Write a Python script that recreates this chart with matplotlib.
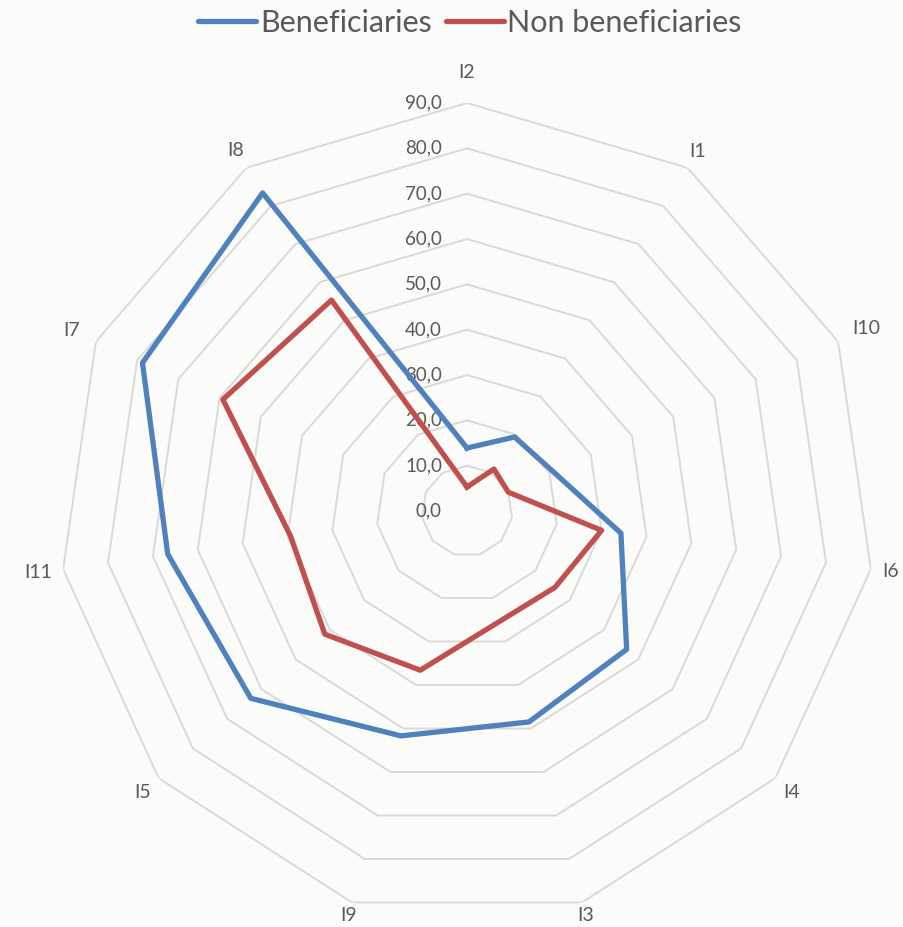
import matplotlib
matplotlib.use('Agg')
import matplotlib.pyplot as plt
import matplotlib.transforms as mtransforms
import numpy as np

plt.rcParams['font.family'] = ['Lato', 'DejaVu Sans']

# categories clockwise from the top
categories = ['I2', 'I1', 'I10', 'I6', 'I4', 'I3', 'I9', 'I5', 'I11', 'I7', 'I8']
beneficiaries = [13.9, 19.4, 20.9, 34.3, 46.6, 48.5, 51.7, 63.1, 66.7, 78.7, 83.4]
non_beneficiaries = [5.3, 11.0, 10.0, 30.0, 25.7, 25.4, 36.6, 41.5, 39.3, 59.2, 55.3]
rings = [10, 20, 30, 40, 50, 60, 70, 80, 90]
ring_labels = ['0,0', '10,0', '20,0', '30,0', '40,0', '50,0', '60,0', '70,0', '80,0', '90,0']

# where each category label sits (in axis units, outside the 90 ring)
label_r = [96.8, 94.2, 96.8, 94.4, 94.7, 92.9, 92.9, 94.7, 95.6, 96.0, 94.6]

grid_col = '#D9D9D9'
txt_col = '#595959'
blue = '#4F81BD'
red = '#C0504D'

fig = plt.figure(figsize=(9.04, 9.27), dpi=100, facecolor='#FBFBFA')
ax = fig.add_axes([59/904, 8/927, 816/904, 816/927], projection='polar')
ax.set_theta_zero_location('N')
ax.set_theta_direction(-1)
ax.set_ylim(0, 90)
ax.grid(False)
ax.spines['polar'].set_visible(False)
ax.set_xticks([])
ax.set_yticks([])
ax.patch.set_alpha(0)

n = len(categories)
theta = np.arange(n) * 2 * np.pi / n
theta_c = np.append(theta, theta[0])

# polygon grid
for r in rings:
    ax.plot(theta_c, [r] * (n + 1), color=grid_col, lw=1.4, zorder=1)

# radial value labels left of the top axis
off = mtransforms.offset_copy(ax.transData, fig=fig, x=-25, y=0, units='dots')
for i, lab in enumerate(ring_labels):
    ax.text(0, i * 10, lab, transform=off, ha='right', va='center',
            fontsize=13.5, color=txt_col)

# category labels
for t, lab, rr in zip(theta, categories, label_r):
    ax.text(t, rr, lab, ha='center', va='center', fontsize=14, color=txt_col,
            clip_on=False)

b = np.append(beneficiaries, beneficiaries[0])
nb = np.append(non_beneficiaries, non_beneficiaries[0])
ax.plot(theta_c, b, color=blue, lw=3.8, solid_joinstyle='round', label='Beneficiaries', zorder=3)
ax.plot(theta_c, nb, color=red, lw=3.8, solid_joinstyle='round', label='Non beneficiaries', zorder=4)

leg = fig.legend(loc='center', bbox_to_anchor=(0.52, 1 - 23/927), ncol=2, frameon=False,
                 fontsize=22, handlelength=1.9, handletextpad=0.12, columnspacing=0.45)
for t in leg.get_texts():
    t.set_color(txt_col)
for h in leg.legend_handles:
    h.set_solid_capstyle('round')

fig.savefig('out.png', dpi=100, facecolor=fig.get_facecolor())
